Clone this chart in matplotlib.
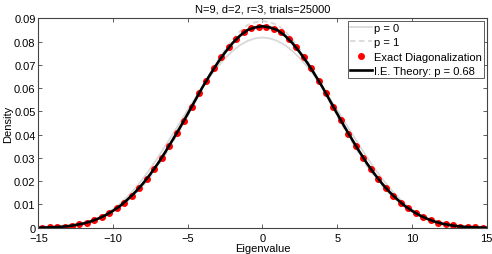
import numpy as np
import matplotlib
matplotlib.use("Agg")
import matplotlib.pyplot as plt

plt.rcParams['font.family'] = ['Liberation Sans', 'DejaVu Sans']

# curves sampled on 0, 0.5, ..., 15 (mirrored for negative side)
x_half = np.arange(0, 15.01, 0.5)
p0_half = [0.0818, 0.0814, 0.0803, 0.0785, 0.0760, 0.0729, 0.0692, 0.0651, 0.0606,
           0.0557, 0.0507, 0.0455, 0.0403, 0.0352, 0.0302, 0.0255, 0.0211, 0.0171,
           0.0136, 0.0105, 0.0079, 0.0058, 0.0041, 0.0028, 0.0018, 0.0011, 0.0006,
           0.0003, 0.0002, 0.0001, 0.0000]
p1_half = [0.0889, 0.0883, 0.0872, 0.0845, 0.0810, 0.0766, 0.0717, 0.0663, 0.0606,
           0.0544, 0.0482, 0.0423, 0.0368, 0.0314, 0.0264, 0.0220, 0.0180, 0.0146,
           0.0117, 0.0090, 0.0070, 0.0052, 0.0038, 0.0026, 0.0018, 0.0013, 0.0008,
           0.0004, 0.0002, 0.0001, 0.0000]
ie_half = [0.0866, 0.0861, 0.0850, 0.0826, 0.0794, 0.0754, 0.0709, 0.0659, 0.0606,
           0.0548, 0.0490, 0.0433, 0.0379, 0.0326, 0.0276, 0.0231, 0.0190, 0.0154,
           0.0123, 0.0095, 0.0073, 0.0054, 0.0039, 0.0027, 0.0018, 0.0012, 0.0007,
           0.0004, 0.0002, 0.0001, 0.0000]

# exact diagonalization histogram, bin centers 0.25 ... 14.75
ed_x_half = np.arange(0.25, 15, 0.5)
ed_left = [0.0865, 0.0858, 0.0840, 0.0811, 0.0775, 0.0732, 0.0685, 0.0632, 0.0578,
           0.0517, 0.0460, 0.0406, 0.0352, 0.0300, 0.0252, 0.0210, 0.0171, 0.0138,
           0.0108, 0.0083, 0.0063, 0.0046, 0.0033, 0.0022, 0.0015, 0.0009, 0.0005,
           0.0003, 0.0002, 0.0001]
ed_right = [0.0865, 0.0856, 0.0840, 0.0813, 0.0775, 0.0732, 0.0688, 0.0632, 0.0578,
            0.0519, 0.0462, 0.0405, 0.0352, 0.0301, 0.0253, 0.0210, 0.0172, 0.0137,
            0.0108, 0.0084, 0.0063, 0.0046, 0.0032, 0.0022, 0.0015, 0.0010, 0.0005,
            0.0003, 0.0002, 0.0001]

x = np.concatenate([-x_half[:0:-1], x_half])
p0 = np.concatenate([p0_half[:0:-1], p0_half])
p1 = np.concatenate([p1_half[:0:-1], p1_half])
ie = np.concatenate([ie_half[:0:-1], ie_half])
ed_x = np.concatenate([-ed_x_half[::-1], ed_x_half])
ed_y = np.concatenate([ed_left[::-1], ed_right])

fig = plt.figure(figsize=(4.92, 2.55), dpi=100)
ax = fig.add_axes([0.078, 0.103, 0.911, 0.821])

ax.plot(x, p0, color='#d9d9d9', lw=1.3, label='p = 0')
ax.plot(x, p1, color='#d9d9d9', lw=1.3, ls=(0, (3, 2)), label='p = 1')
ax.plot(ed_x, ed_y, 'o', color='red', ms=4, mec='red', label='Exact Diagonalization')
ax.plot(x, ie, color='black', lw=1.9, label='I.E. Theory: p = 0.68')

ax.set_xlim(-15, 15)
ax.set_ylim(0, 0.09)
ax.set_xticks(np.arange(-15, 16, 5))
ax.set_yticks(np.arange(0, 0.091, 0.01))
ax.set_yticklabels(['0'] + ['%.2f' % v for v in np.arange(0.01, 0.091, 0.01)])
ax.tick_params(direction='in', top=True, right=True, length=3, width=0.6,
               labelsize=8, pad=2, color='#444444')
ax.tick_params(axis='x', pad=4)
for s in ax.spines.values():
    s.set_linewidth(0.8)
    s.set_color('#444444')

ax.set_title('N=9, d=2, r=3, trials=25000', fontsize=8, pad=5)
ax.set_xlabel('Eigenvalue', fontsize=8, labelpad=0)
ax.set_ylabel('Density', fontsize=8, labelpad=1)

leg = ax.legend(loc='upper right', fontsize=8, fancybox=False, framealpha=1,
                edgecolor='#444444', handlelength=2.0, handletextpad=0.2,
                borderpad=0.2, labelspacing=0.4, borderaxespad=0.2)
leg.get_frame().set_linewidth(0.6)

fig.savefig('out.png', dpi=100)
